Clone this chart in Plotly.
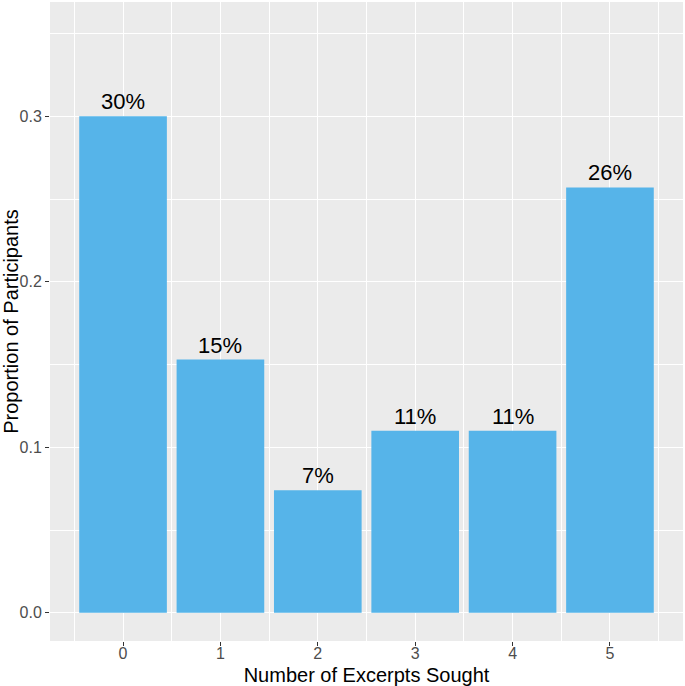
import plotly.graph_objects as go

# excerpts sought -> share of participants
excerpts = [0, 1, 2, 3, 4, 5]
proportions = [0.300, 0.153, 0.074, 0.110, 0.110, 0.257]
bar_labels = ["30%", "15%", "7%", "11%", "11%", "26%"]
y_ticks = [0.0, 0.1, 0.2, 0.3]
y_tick_labels = ["0.0", "0.1", "0.2", "0.3"]

font = "Arial, Liberation Sans, sans-serif"

fig = go.Figure()
fig.add_trace(go.Bar(
    x=excerpts,
    y=proportions,
    width=0.9,
    marker=dict(color="#56B4E9", line=dict(width=0)),
    hoverinfo="skip",
))

# percentage labels just above each bar
for x, y, label in zip(excerpts, proportions, bar_labels):
    fig.add_annotation(
        x=x, y=y, text=label, showarrow=False,
        yanchor="bottom", yshift=0,
        font=dict(family=font, size=22, color="black"),
    )

fig.update_layout(
    width=685,
    height=686,
    margin=dict(l=50, r=2, t=2, b=45),
    paper_bgcolor="white",
    plot_bgcolor="#EBEBEB",
    showlegend=False,
    font=dict(family=font),
)

fig.update_xaxes(
    range=[-0.75, 5.75],
    tickvals=excerpts,
    ticktext=[str(v) for v in excerpts],
    ticks="outside", ticklen=4, tickwidth=1, tickcolor="#333333",
    tickfont=dict(size=16, color="#4D4D4D"),
    ticklabelstandoff=-6,
    showgrid=True, gridcolor="white", gridwidth=1.4,
    minor=dict(tick0=0.5, dtick=1, showgrid=True, gridcolor="white",
               gridwidth=0.7, ticks=""),
    zeroline=False, showline=False,
    title=dict(text="Number of Excerpts Sought",
               font=dict(size=20, color="black"), standoff=10),
    automargin=False,
)

fig.update_yaxes(
    range=[-0.017, 0.369],
    tickvals=y_ticks,
    ticktext=y_tick_labels,
    ticks="outside", ticklen=4, tickwidth=1, tickcolor="#333333",
    tickfont=dict(size=16, color="#4D4D4D"),
    showgrid=True, gridcolor="white", gridwidth=1.4,
    minor=dict(tick0=0.05, dtick=0.1, showgrid=True, gridcolor="white",
               gridwidth=0.7, ticks=""),
    zeroline=False, showline=False,
    title=dict(text="Proportion of Participants",
               font=dict(size=20, color="black"), standoff=4),
    automargin=False,
)

# drop the browser's default page margin so the figure sits at the corner
fig.write_html("out.html", config={"displayModeBar": False},
               post_script="document.body.style.margin='0px';")
